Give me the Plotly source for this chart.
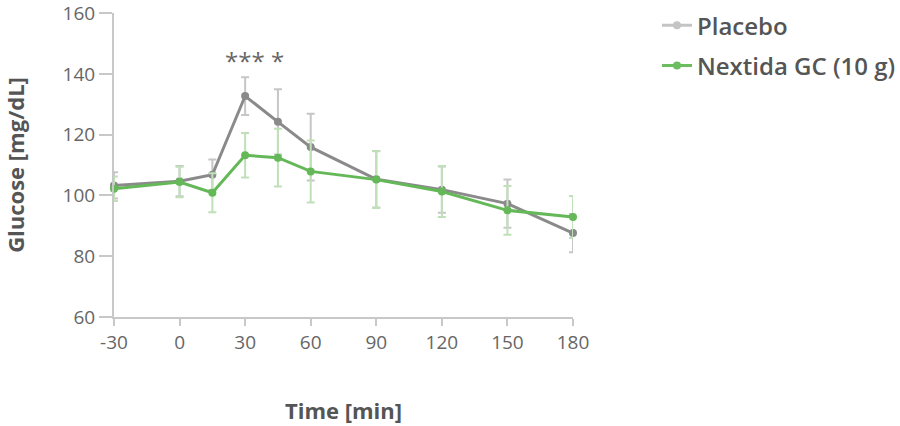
import plotly.graph_objects as go

time = [-30, 0, 15, 30, 45, 60, 90, 120, 150, 180]
placebo = [103.3, 104.7, 106.8, 132.7, 124.2, 115.9, 105.3, 101.9, 97.3, 87.6]
placebo_err = [4.3, 5.0, 5.0, 6.2, 10.7, 11.0, 9.3, 7.6, 7.9, 6.3]
nextida = [102.2, 104.4, 100.9, 113.2, 112.4, 107.9, 105.2, 101.3, 95.1, 92.9]
nextida_err = [4.0, 5.0, 6.4, 7.3, 9.5, 10.2, 9.3, 8.4, 8.0, 6.9]
sig_x = [30, 45]
sig_labels = ["***", "*"]
x_ticks = [-30, 0, 30, 60, 90, 120, 150, 180]
x_tick_labels = ["-30", "0", "30", "60", "90", "120", "150", "180"]
y_ticks = [60, 80, 100, 120, 140, 160]

FONT = "Open Sans"
fig = go.Figure()

fig.add_trace(go.Scatter(
    x=time, y=placebo, mode="lines+markers", name="Placebo", showlegend=False,
    line=dict(color="#8a8a8a", width=3), marker=dict(color="#8a8a8a", size=8),
    error_y=dict(type="data", array=placebo_err, color="#c6c6c6", thickness=2, width=4),
    cliponaxis=False,
))
fig.add_trace(go.Scatter(
    x=time, y=nextida, mode="lines+markers", name="Nextida GC (10 g)", showlegend=False,
    line=dict(color="#64b858", width=3), marker=dict(color="#64b858", size=8),
    error_y=dict(type="data", array=nextida_err, color="#bfe0b8", thickness=2, width=4),
    cliponaxis=False,
))
# legend entries
fig.add_trace(go.Scatter(
    x=[None], y=[None], mode="lines+markers", name="Placebo", legendgroup="a",
    line=dict(color="#c4c4c4", width=3), marker=dict(color="#c4c4c4", size=8),
))
fig.add_trace(go.Scatter(
    x=[None], y=[None], mode="lines+markers", name="Nextida GC (10 g)", legendgroup="b",
    line=dict(color="#6cbd60", width=3), marker=dict(color="#6cbd60", size=8),
))

for sx, lab in zip(sig_x, sig_labels):
    fig.add_annotation(x=sx, y=144.5, text=lab, showarrow=False,
                       font=dict(family=FONT, size=24, color="#666666"))

fig.update_layout(
    width=900, height=426,
    margin=dict(l=114, r=327, t=13, b=109, autoexpand=False),
    paper_bgcolor="white", plot_bgcolor="white",
    font=dict(family=FONT, color="#666666", size=19),
    legend=dict(x=1.183, y=1.032, xanchor="left", yanchor="top",
                font=dict(family=FONT, size=24, color="#555555", weight=600),
                tracegroupgap=6, itemwidth=30),
    xaxis=dict(range=[-30, 180], tickvals=x_ticks, ticktext=x_tick_labels,
               showgrid=False, zeroline=False,
               showline=True, linecolor="#c8c8c8", linewidth=2,
               ticks="outside", ticklen=7, tickcolor="#c8c8c8", tickwidth=2,
               tickfont=dict(family=FONT, size=19, color="#666666"),
               title=dict(text="Time [min]", standoff=50,
                          font=dict(family=FONT, size=22, color="#555555", weight="bold"))),
    yaxis=dict(range=[60, 160.02], tickvals=y_ticks, showgrid=False, zeroline=False,
               showline=True, linecolor="#c8c8c8", linewidth=2,
               ticks="outside", ticklen=13, tickcolor="#c8c8c8", tickwidth=2,
               ticklabeloverflow="allow",
               tickfont=dict(family=FONT, size=19, color="#666666"),
               title=dict(text="Glucose [mg/dL]", standoff=35,
                          font=dict(family=FONT, size=22, color="#555555", weight="bold"))),
)

fig.write_html("out.html")
